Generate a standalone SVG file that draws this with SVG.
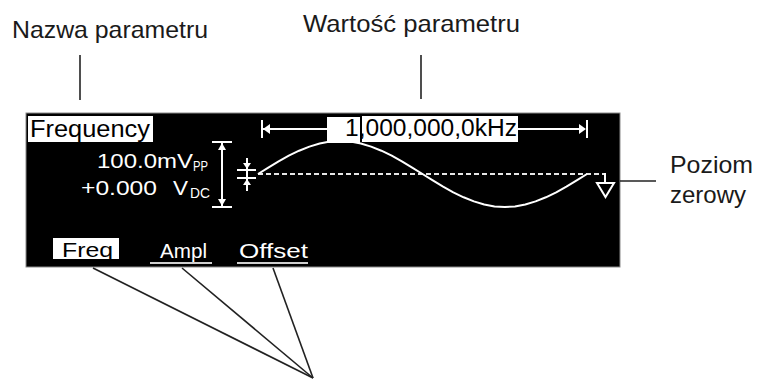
<svg xmlns="http://www.w3.org/2000/svg" width="758" height="380" viewBox="0 0 758 380">
<defs>
<style>
.lbl{font-family:"Liberation Sans",Arial,sans-serif;font-size:24px;fill:#1a1a1a}
.scr{font-family:"Liberation Sans",Arial,sans-serif;fill:#ffffff}
.inv{font-family:"Liberation Sans",Arial,sans-serif;fill:#000000}
.w{stroke:#ffffff;stroke-width:2;fill:none}
.lead{stroke:#222;stroke-width:1.6;fill:none}
</style>
</defs>
<rect x="0" y="0" width="758" height="380" fill="#ffffff"/>

<g id="label-name">
<text class="lbl" x="12" y="38" textLength="196" lengthAdjust="spacingAndGlyphs">Nazwa parametru</text>
</g>
<g id="label-value">
<text class="lbl" x="303" y="32" textLength="217" lengthAdjust="spacingAndGlyphs">Wartość parametru</text>
</g>
<g id="label-zero">
<text class="lbl" x="670" y="173" textLength="83" lengthAdjust="spacingAndGlyphs">Poziom</text>
<text class="lbl" x="670" y="203" textLength="76" lengthAdjust="spacingAndGlyphs">zerowy</text>
</g>

<g id="screen">
<rect x="26" y="113" width="594" height="154" fill="#000000" stroke="#8a8a8a" stroke-width="1"/>
</g>

<g id="waveform">
<line x1="258" y1="174" x2="605" y2="174" stroke="#e6e6e6" stroke-width="2" stroke-dasharray="5 3"/>
<polyline class="w" stroke-linejoin="round" points="258,174 268.3,167.6 278.6,161.4 288.8,155.7 299.1,150.7 309.4,146.6 319.7,143.5 330,141.6 340.3,141 350.5,141.6 360.8,143.5 371.1,146.6 381.4,150.7 391.7,155.7 401.9,161.4 412.2,167.6 422.5,174 432.8,180.4 443.1,186.6 453.3,192.3 463.6,197.3 473.9,201.4 484.2,204.5 494.5,206.4 504.8,207 515,206.4 525.3,204.5 535.6,201.4 545.9,197.3 556.2,192.3 566.4,186.6 576.7,180.4 587,174"/>
<polyline class="w" points="604,174 605,174 605,183"/>
<polygon points="597,183 614,183 605.5,197" fill="none" stroke="#ffffff" stroke-width="2"/>
</g>

<g id="param-name">
<rect x="28" y="116" width="125" height="26" fill="#ffffff"/>
<text class="inv" x="30" y="137" font-size="23" textLength="120" lengthAdjust="spacingAndGlyphs">Frequency</text>
</g>

<g id="param-value">
<line x1="263" y1="129" x2="327" y2="129" class="w"/>
<line x1="262" y1="120" x2="262" y2="138" class="w"/>
<polygon points="263,129 270,124 270,134" fill="#ffffff"/>
<line x1="518" y1="129" x2="584" y2="129" class="w"/>
<line x1="587" y1="120" x2="587" y2="138" class="w"/>
<polygon points="586,129 579,124 579,134" fill="#ffffff"/>
<rect x="327" y="117" width="33" height="26" fill="#ffffff"/>
<rect x="362" y="116" width="156" height="26" fill="#ffffff"/>
<text class="inv" x="345" y="136" font-size="23" textLength="172" lengthAdjust="spacingAndGlyphs">1,000,000,0kHz</text>
</g>

<g id="amplitude">
<text class="scr" x="97" y="168" font-size="21" textLength="96" lengthAdjust="spacingAndGlyphs">100.0mV</text>
<text class="scr" x="193" y="171" font-size="14" textLength="15" lengthAdjust="spacingAndGlyphs">PP</text>
<text class="scr" x="81" y="195" font-size="21" textLength="76" lengthAdjust="spacingAndGlyphs">+0.000</text>
<text class="scr" x="173" y="195" font-size="21" textLength="15" lengthAdjust="spacingAndGlyphs">V</text>
<text class="scr" x="190" y="198" font-size="14" textLength="20" lengthAdjust="spacingAndGlyphs">DC</text>
<line x1="222" y1="143" x2="222" y2="207" class="w"/>
<line x1="212" y1="142" x2="232" y2="142" class="w"/>
<line x1="212" y1="207" x2="232" y2="207" class="w"/>
<polygon points="222,143 218,150 226,150" fill="#ffffff"/>
<polygon points="222,206 218,199 226,199" fill="#ffffff"/>
<line x1="247" y1="158" x2="247" y2="191" class="w"/>
<line x1="237" y1="170" x2="256" y2="170" class="w"/>
<line x1="237" y1="178" x2="256" y2="178" class="w"/>
<polygon points="247,169 243,163 251,163" fill="#ffffff"/>
<polygon points="247,179 243,185 251,185" fill="#ffffff"/>
</g>

<g id="softkey-freq">
<rect x="53" y="238" width="66" height="21" fill="#ffffff"/>
<text class="inv" x="62" y="257" font-size="20" textLength="51" lengthAdjust="spacingAndGlyphs">Freq</text>
</g>
<g id="softkey-ampl">
<text class="scr" x="160" y="258" font-size="20" textLength="47" lengthAdjust="spacingAndGlyphs">Ampl</text>
<line x1="150" y1="263" x2="212" y2="263" stroke="#cfcfcf" stroke-width="2"/>
</g>
<g id="softkey-offset">
<text class="scr" x="239" y="258" font-size="20" textLength="69" lengthAdjust="spacingAndGlyphs" fill="#e0e0e0">Offset</text>
<line x1="237" y1="263" x2="308" y2="263" stroke="#cfcfcf" stroke-width="2"/>
</g>

<g id="connectors">
<line class="lead" x1="80" y1="55" x2="80" y2="100"/>
<line class="lead" x1="421" y1="55" x2="421" y2="99"/>
<line class="lead" x1="620" y1="181" x2="656" y2="181"/>
<line class="lead" x1="93" y1="268" x2="313" y2="378"/>
<line class="lead" x1="182" y1="268" x2="313" y2="378"/>
<line class="lead" x1="273" y1="268" x2="313" y2="378"/>
</g>
</svg>
